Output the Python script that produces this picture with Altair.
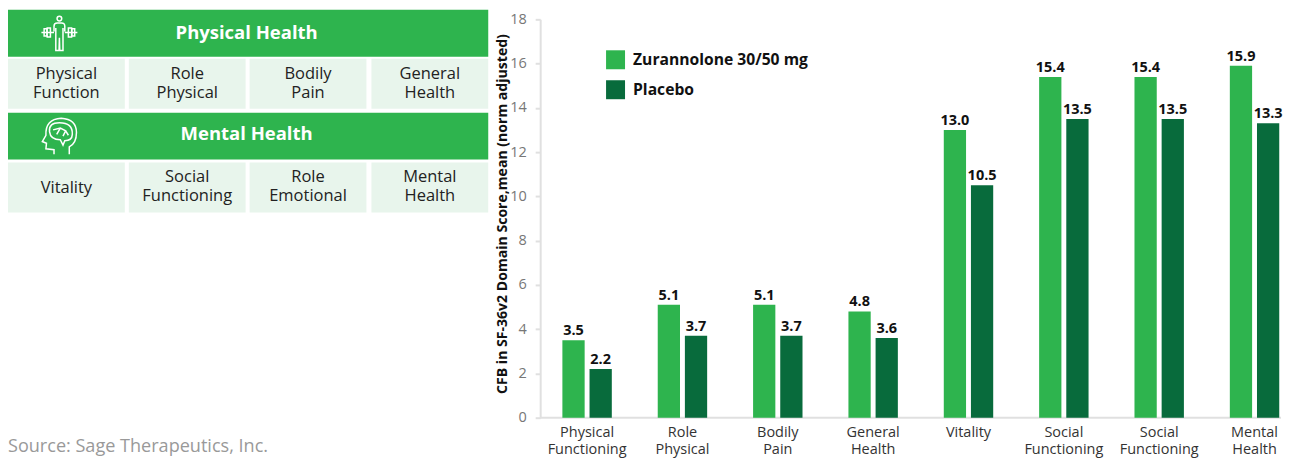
import json
import altair as alt
import pandas as pd

FONT = "Open Sans"
GREEN = "#2EB44E"
DARK = "#086B3C"

# ---- bar chart data
group_ids = list(range(8))
group_labels = ["Physical\nFunctioning", "Role\nPhysical", "Bodily\nPain", "General\nHealth",
                "Vitality", "Social\nFunctioning", "Social\nFunctioning", "Mental\nHealth"]
series_names = ["Zurannolone 30/50 mg", "Placebo"]
zuranolone = [3.5, 5.1, 5.1, 4.8, 13.0, 15.4, 15.4, 15.9]
placebo = [2.2, 3.7, 3.7, 3.6, 10.5, 13.5, 13.5, 13.3]

# ---- table data
header_names = ["Physical Health", "Mental Health"]
header_rows = [0, 4]
header_text_rows = [0.5, 4.46]
cell_names = ["Physical\nFunction", "Role\nPhysical", "Bodily\nPain", "General\nHealth",
              "Vitality", "Social\nFunctioning", "Role\nEmotional", "Mental\nHealth"]
cell_cols = [0, 1, 2, 3, 0, 1, 2, 3]
cell_rows = [2, 2, 2, 2, 6, 6, 6, 6]
cell_text_rows = [2.5, 2.5, 2.5, 2.5, 6.5, 6.48, 6.48, 6.48]
source_text = ["Source: Sage Therapeutics, Inc."]

PERSON = ("M0.13,-0.82 A0.13,0.13 0 1 1 -0.13,-0.82 A0.13,0.13 0 1 1 0.13,-0.82 Z "
          "M-0.3,-0.1 L-0.3,-0.4 Q-0.3,-0.58 -0.12,-0.58 L0.12,-0.58 Q0.3,-0.58 0.3,-0.4 L0.3,-0.1 "
          "M-0.2,-0.3 L-0.2,0.95 L-0.02,0.95 L0,0.25 L0.02,0.95 L0.2,0.95 L0.2,-0.3 "
          "M-1,-0.05 L-0.3,-0.05 M0.3,-0.05 L1,-0.05 "
          "M-0.85,-0.25 L-0.7,-0.25 L-0.7,0.15 L-0.85,0.15 Z M-0.68,-0.3 L-0.5,-0.3 L-0.5,0.2 L-0.68,0.2 Z "
          "M0.85,-0.25 L0.7,-0.25 L0.7,0.15 L0.85,0.15 Z M0.68,-0.3 L0.5,-0.3 L0.5,0.2 L0.68,0.2 Z")
BRAIN = ("M-0.3,1 L-0.3,0.75 L-0.75,0.7 L-0.72,0.4 L-0.95,0.3 L-0.75,-0.05 Q-0.8,-0.95 0.1,-1 "
         "Q0.95,-0.95 0.95,-0.2 Q0.95,0.4 0.55,0.6 L0.55,1 "
         "M-0.55,-0.25 Q-0.6,-0.75 0,-0.75 Q0.75,-0.75 0.72,-0.1 Q0.7,0.25 0.3,0.25 L0.2,0.5 L0.05,0.2 Q-0.5,0.2 -0.55,-0.25 Z "
         "M-0.35,-0.35 L0.05,-0.45 L0.35,-0.3 L0.2,0 M-0.15,-0.1 L0.05,-0.45 M0.35,-0.3 L0.5,-0.05")
icon_paths = [PERSON, BRAIN]

# ---- frames
bars = pd.DataFrame({
    "gid": group_ids * 2,
    "series": [series_names[0]] * 8 + [series_names[1]] * 8,
    "value": zuranolone + placebo,
})
headers = pd.DataFrame({"name": header_names, "y0": header_rows, "y1": [r + 1 for r in header_rows],
                        "x0": [-1, -1], "x1": [7, 7], "xc": [3.25, 3.25], "yc": header_text_rows})
cells = pd.DataFrame({"name": cell_names,
                      "x0": [2 * c for c in cell_cols], "x1": [2 * c + 1 for c in cell_cols],
                      "xc": [2 * c + 0.5 for c in cell_cols],
                      "y0": cell_rows, "y1": [r + 1 for r in cell_rows], "yc": cell_text_rows})
two_line = cells[cells["name"].str.contains("\n")]
one_line = cells[~cells["name"].str.contains("\n")]

# ---- left panel scales (view top sits at page y=18.5, left at page x=8)
xs = alt.Scale(domain=[-1, 0, 1, 2, 3, 4, 5, 6, 7], range=[0, 0, 117, 121, 238, 242, 359, 364, 481], zero=False, nice=False)
ys = alt.Scale(domain=[0, 1, 2, 3, 4, 5, 6, 7, 8], range=[-9.5, 37.5, 39.5, 89.5, 93.5, 140.5, 143.5, 193.5, 433.5],
               zero=False, nice=False)
X = lambda f: alt.X(f, type="quantitative", scale=xs, axis=None)
Y = lambda f: alt.Y(f, type="quantitative", scale=ys, axis=None)

header_rect = alt.Chart(headers).mark_rect(color=GREEN).encode(X("x0:Q"), x2="x1:Q", y=Y("y0:Q"), y2="y1:Q")
header_text = alt.Chart(headers).mark_text(font=FONT, fontSize=18.5, fontWeight="bold", color="white").encode(
    X("xc:Q"), Y("yc:Q"), text="name:N")
cell_rect = alt.Chart(cells).mark_rect(color="#E8F5EC").encode(X("x0:Q"), x2="x1:Q", y=Y("y0:Q"), y2="y1:Q")
cell_text2 = alt.Chart(two_line).mark_text(font=FONT, fontSize=16.5, color="#222222", lineBreak="\n", lineHeight=19,
                                           dy=-9.5).encode(X("xc:Q"), Y("yc:Q"), text="name:N")
cell_text1 = alt.Chart(one_line).mark_text(font=FONT, fontSize=16.5, color="#222222").encode(
    X("xc:Q"), Y("yc:Q"), text="name:N")
icons = [
    alt.Chart(pd.DataFrame({"x": [0.44], "y": [r + 0.5]})).mark_point(
        shape=p, size=1296, filled=False, stroke="white", strokeWidth=1.5, opacity=1).encode(X("x:Q"), Y("y:Q"))
    for p, r in zip(icon_paths, header_rows)
]
source = alt.Chart(pd.DataFrame({"t": source_text, "x": [-1], "y": [8]})).mark_text(
    font=FONT, fontSize=18.1, color="#999999", align="left", baseline="alphabetic").encode(
    X("x:Q"), Y("y:Q"), text="t:N")

left = alt.layer(header_rect, cell_rect, header_text, cell_text2, cell_text1, *icons, source).properties(width=533, height=399)

# ---- right panel
WIDTH = 742
label_expr = json.dumps([s.split("\n") for s in group_labels]) + "[datum.value]"
x_enc = alt.X("gid:N", title=None, sort=group_ids,
              scale=alt.Scale(domain=group_ids, paddingInner=0.4817, paddingOuter=0.1257, align=0.927),
              axis=alt.Axis(domain=False, ticks=False, labelAngle=0, labelExpr=label_expr, labelFont=FONT,
                            labelFontSize=14.5, labelColor="#333333", labelPadding=8, labelLineHeight=17,
                            labelBaseline="top", labelOverlap=False, labelBound=False))
off_enc = alt.XOffset("series:N", sort=series_names, scale=alt.Scale(domain=series_names, paddingInner=0.18, paddingOuter=0))
y_enc = alt.Y("value:Q", scale=alt.Scale(domain=[0, 18], nice=False),
              axis=alt.Axis(values=list(range(0, 19, 2)), grid=False, domainColor="#E0E0E0", domainWidth=2,
                            tickColor="#E0E0E0", tickWidth=2, tickSize=5, labelFont=FONT, labelFontSize=14.5,
                            labelColor="#777777", labelPadding=9,
                            title="CFB in SF-36v2 Domain Score,mean (norm adjusted)", titleFont=FONT, titleFontSize=14.1,
                            titleFontWeight="bold", titleColor="#111111", titleX=-31, titleY=194.5))

bar_layer = alt.Chart(bars).mark_bar().encode(
    x=x_enc, xOffset=off_enc, y=y_enc,
    color=alt.Color("series:N", sort=series_names,
                    scale=alt.Scale(domain=series_names, range=[GREEN, DARK]),
                    legend=alt.Legend(title=None, orient="none", legendX=66, legendY=31, symbolType="square",
                                      symbolSize=361, symbolStrokeWidth=0, symbolOpacity=1, labelFont=FONT,
                                      labelFontSize=15.7, labelFontWeight="bold", labelColor="#111111",
                                      labelOffset=8, rowPadding=11, labelLimit=300)),
)
label_layer = alt.Chart(bars).mark_text(font=FONT, fontSize=14.5, fontWeight="bold", color="#111111",
                                        baseline="bottom", dy=-2).encode(
    x=x_enc, xOffset=off_enc, y=y_enc, text=alt.Text("value:Q", format=".1f"))
base_rule = alt.Chart(pd.DataFrame({"value": [0]})).mark_rule(color="#E0E0E0", strokeWidth=2).encode(
    y=y_enc, x=alt.value(0), x2=alt.value(WIDTH))

right = alt.layer(base_rule, bar_layer, label_layer).properties(width=WIDTH, height=399)

chart = alt.hconcat(left, right, spacing=0, bounds="flush", padding={"left": 0, "top": 1, "right": 0, "bottom": 4},
                    ).configure_view(stroke=None).resolve_scale(color="independent")
chart.save("out.html", embed_options={"renderer": "svg", "actions": False})
